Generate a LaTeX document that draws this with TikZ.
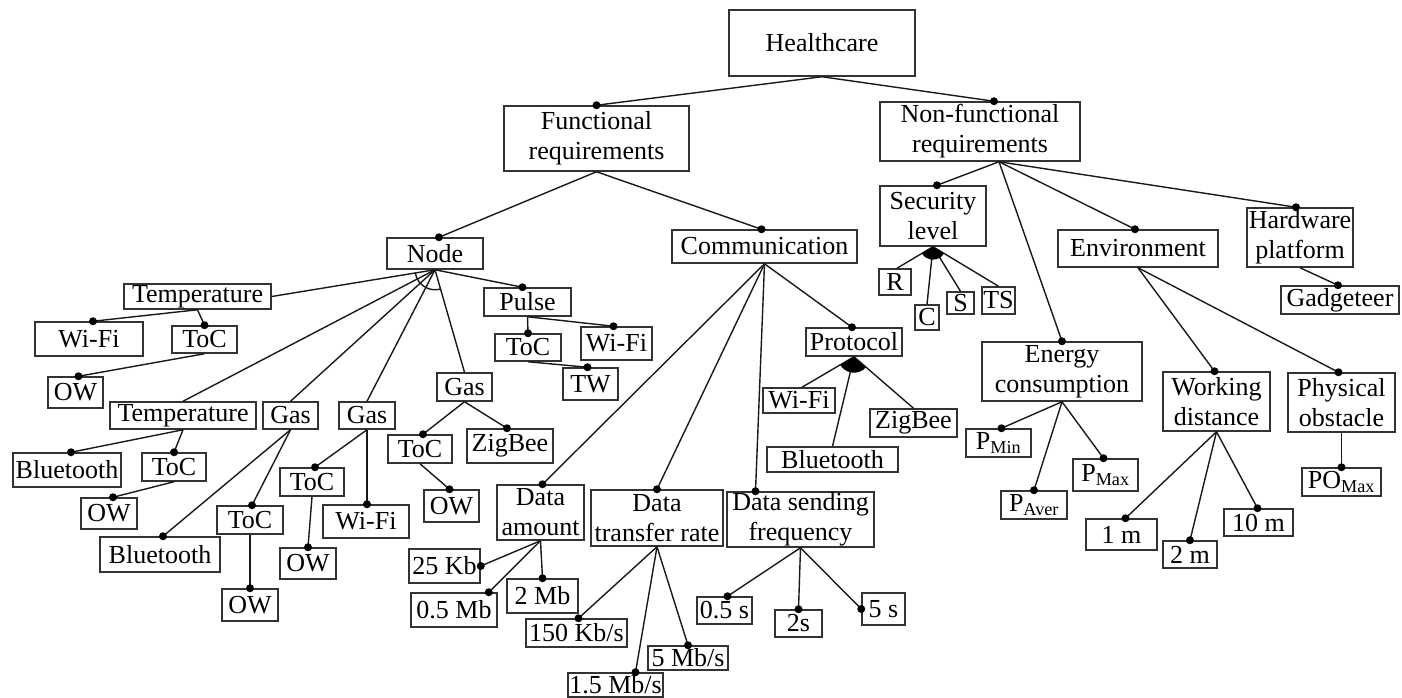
\documentclass[tikz,border=0pt]{standalone}
\usepackage{fontspec}
\setmainfont{Liberation Serif}
\begin{document}
\begin{tikzpicture}[x=1pt,y=-1pt,
  box/.style={draw=black!80, line width=1.5pt, inner sep=0pt, align=center,
              font=\fontsize{26}{30}\selectfont},
  dot/.style={circle, fill=black, inner sep=0pt, minimum size=8pt},
  link/.style={line width=1.4pt, black!90}]
\useasboundingbox (0,0) rectangle (1402,698);

% feature box: name, centre x, centre y, width, height, label
\newcommand\featbox[6]{\node[box,minimum width=#4pt,minimum height=#5pt] (#1) at (#2,#3) {#6};}
% mandatory child (dot at child end) and plain group child
\newcommand\mandedge[2]{\draw[link] (#1) -- (#2) node[dot]{};}
\newcommand\bareedge[2]{\draw[link] (#1) -- (#2);}

% ---- top levels
\featbox{hc}{822}{43}{186}{66}{Healthcare}
\featbox{fr}{596.5}{138.5}{185}{65}{Functional\\requirements}
\featbox{nfr}{980}{131.5}{200}{59}{Non-functional\\requirements}
\featbox{nd}{435}{253.5}{96}{31}{Node}
\featbox{comm}{764.5}{246.5}{185}{33}{Communication}

% ---- node subtree
\featbox{t1}{197.5}{296.5}{147}{25}{Temperature}
\featbox{t2}{183}{415.5}{146}{27}{Temperature}
\featbox{g1}{290.5}{415.5}{55}{27}{Gas}
\featbox{g2}{367}{415.5}{56}{27}{Gas}
\featbox{g3}{464.5}{387}{55}{28}{Gas}
\featbox{pulse}{527.5}{302}{87}{28}{Pulse}
\featbox{wifi1}{89}{339}{108}{34}{Wi-Fi}
\featbox{toc1}{204.5}{339.5}{65}{27}{ToC}
\featbox{ow1}{75.5}{392.5}{55}{31}{OW}
\featbox{bt1}{67}{470}{108}{34}{Bluetooth}
\featbox{toc2}{174}{467}{64}{28}{ToC}
\featbox{ow2}{109}{513.5}{56}{31}{OW}
\featbox{bt2}{160}{554.5}{120}{35}{Bluetooth}
\featbox{toc3}{250}{520}{66}{28}{ToC}
\featbox{ow3}{250}{605}{56}{32}{OW}
\featbox{toc4}{312}{482}{64}{28}{ToC}
\featbox{ow4}{308}{563.5}{56}{31}{OW}
\featbox{wifi2}{366}{521.5}{86}{33}{Wi-Fi}
\featbox{toc5}{420}{449}{64}{28}{ToC}
\featbox{zig1}{510}{446}{86}{34}{ZigBee}
\featbox{ow5}{451.5}{506}{55}{32}{OW}
\featbox{toc6}{528}{347.5}{66}{27}{ToC}
\featbox{wifi3}{616.5}{343.5}{71}{33}{Wi-Fi}
\featbox{tw}{590.5}{384}{55}{32}{TW}

% ---- communication subtree
\featbox{da}{540.5}{512.5}{87}{55}{Data\\amount}
\featbox{dtr}{657}{518}{132}{56}{Data\\transfer rate}
\featbox{dsf}{800.5}{519.5}{147}{55}{Data sending\\frequency}
\featbox{proto}{854}{342}{96}{28}{Protocol}
\featbox{wifi4}{799}{400.5}{72}{25}{Wi-Fi}
\featbox{bt3}{832.5}{459.5}{131}{25}{Bluetooth}
\featbox{zig2}{913.5}{423}{87}{28}{ZigBee}
\featbox{kb25}{444.5}{566}{71}{34}{25 Kb}
\featbox{mb05}{454}{610}{86}{34}{0.5 Mb}
\featbox{mb2}{542.5}{596}{71}{34}{2 Mb}
\featbox{kbs150}{576.5}{633}{101}{28}{150 Kb/s}
\featbox{mbs15}{615.5}{685}{95}{24}{1.5 Mb/s}
\featbox{mbs5}{688}{658}{80}{24}{5 Mb/s}
\featbox{s05}{724.5}{610.5}{55}{27}{0.5 s}
\featbox{s2}{798.5}{623.5}{47}{27}{2s}
\featbox{s5}{883.5}{609}{43}{32}{5 s}

% ---- non-functional subtree
\featbox{sec}{933}{216}{106}{60}{Security\\level}
\featbox{ec}{1062}{371.5}{160}{59}{Energy\\consumption}
\featbox{env}{1138}{248.5}{160}{37}{Environment}
\featbox{hw}{1300}{237.5}{106}{59}{Hardware\\platform}
\featbox{sR}{895}{282}{32}{26}{R}
\featbox{sC}{927}{317.5}{24}{25}{C}
\featbox{sS}{960.5}{303}{27}{22}{S}
\featbox{sTS}{998.5}{300.5}{33}{27}{TS}
\featbox{pmin}{998.5}{443}{65}{28}{P\textsubscript{Min}}
\featbox{paver}{1034}{505}{66}{28}{P\textsubscript{Aver}}
\featbox{pmax}{1105.5}{475}{65}{32}{P\textsubscript{Max}}
\featbox{wd}{1216.5}{401.5}{107}{59}{Working\\distance}
\featbox{po}{1341.5}{402.5}{107}{59}{Physical\\obstacle}
\featbox{m1}{1121.5}{534.5}{71}{31}{1 m}
\featbox{m2}{1190}{554.5}{54}{27}{2 m}
\featbox{m10}{1258.5}{522.5}{69}{27}{10 m}
\featbox{pomax}{1341.5}{482}{79}{28}{PO\textsubscript{Max}}
\featbox{gadg}{1340}{300}{118}{28}{Gadgeteer}

% ---- connectors
\mandedge{hc.south}{fr.north}
\mandedge{hc.south}{[xshift=14pt]nfr.north}
\mandedge{fr.south}{[xshift=4pt]nd.north}
\mandedge{fr.south}{[xshift=-3pt]comm.north}

% node: alternative group
\bareedge{nd.south}{t1.east}
\bareedge{nd.south}{t2.north}
\bareedge{nd.south}{g1.north}
\bareedge{nd.south}{g2.north}
\bareedge{nd.south}{g3.north}
\draw[link] ([shift={(171:20)}]nd.south) arc[start angle=171, end angle=74, radius=20];
\mandedge{nd.south}{[xshift=-5pt]pulse.north}

\mandedge{t1.south}{[xshift=4pt]wifi1.north}
\mandedge{t1.south}{toc1.north}
\mandedge{toc1.south}{[xshift=3pt]ow1.north}
\mandedge{t2.south}{[xshift=4pt]bt1.north}
\mandedge{t2.south}{toc2.north}
\mandedge{toc2.south}{[xshift=4pt]ow2.north}
\mandedge{g1.south}{[xshift=3pt]bt2.north}
\mandedge{g1.south}{[xshift=2pt]toc3.north}
\mandedge{toc3.south}{ow3.north}
\mandedge{g2.south}{[xshift=3pt]toc4.north}
\mandedge{g2.south}{[xshift=1pt]wifi2.north}
\mandedge{toc4.south}{ow4.north}
\mandedge{g3.south}{[xshift=3pt]toc5.north}
\mandedge{g3.south}{[xshift=-3pt]zig1.north}
\mandedge{toc5.south}{[xshift=-2pt]ow5.north}
\mandedge{pulse.south}{toc6.north}
\mandedge{pulse.south}{[xshift=-3pt]wifi3.north}
\mandedge{toc6.south}{[xshift=-3pt]tw.north}

% communication
\mandedge{comm.south}{[xshift=2pt]da.north}
\mandedge{comm.south}{dtr.north}
\mandedge{comm.south}{[xshift=-45pt]dsf.north}
\mandedge{comm.south}{[xshift=-2pt]proto.north}
\bareedge{proto.south}{[xshift=3pt]wifi4.north}
\bareedge{proto.south}{bt3.north}
\bareedge{proto.south}{zig2.north}
\fill (proto.south) -- ++(41:16) arc[start angle=41, end angle=149, radius=16] -- cycle;
\mandedge{da.south}{kb25.east}
\mandedge{da.south}{[xshift=-9pt]mb05.north east}
\mandedge{da.south}{mb2.north}
\mandedge{dtr.south}{[xshift=2pt]kbs150.north}
\mandedge{dtr.south}{[xshift=20pt]mbs15.north}
\mandedge{dtr.south}{mbs5.north}
\mandedge{dsf.south}{[xshift=3pt]s05.north}
\mandedge{dsf.south}{s2.north}
\mandedge{dsf.south}{s5.west}

% non-functional
\mandedge{[xshift=19pt]nfr.south}{[xshift=4pt]sec.north}
\mandedge{[xshift=19pt]nfr.south}{ec.north}
\mandedge{[xshift=19pt]nfr.south}{[xshift=-3pt]env.north}
\mandedge{[xshift=19pt]nfr.south}{[xshift=-4pt]hw.north}
\bareedge{sec.south}{[xshift=2pt]sR.north}
\bareedge{sec.south}{sC.north}
\bareedge{sec.south}{sS.north}
\bareedge{sec.south}{sTS.north}
\fill (sec.south) -- ++(32:13) arc[start angle=32, end angle=150, radius=13] -- cycle;
\mandedge{ec.south}{[xshift=3pt]pmin.north}
\mandedge{ec.south}{paver.north}
\mandedge{ec.south}{[xshift=-2pt]pmax.north}
\mandedge{env.south}{[xshift=-2pt]wd.north}
\mandedge{env.south}{[xshift=-3pt]po.north}
\mandedge{wd.south}{[xshift=4pt]m1.north}
\mandedge{wd.south}{m2.north}
\mandedge{wd.south}{[xshift=-1pt]m10.north}
\mandedge{po.south}{pomax.north}
\mandedge{hw.south}{[xshift=-2pt]gadg.north}
\end{tikzpicture}
\end{document}
